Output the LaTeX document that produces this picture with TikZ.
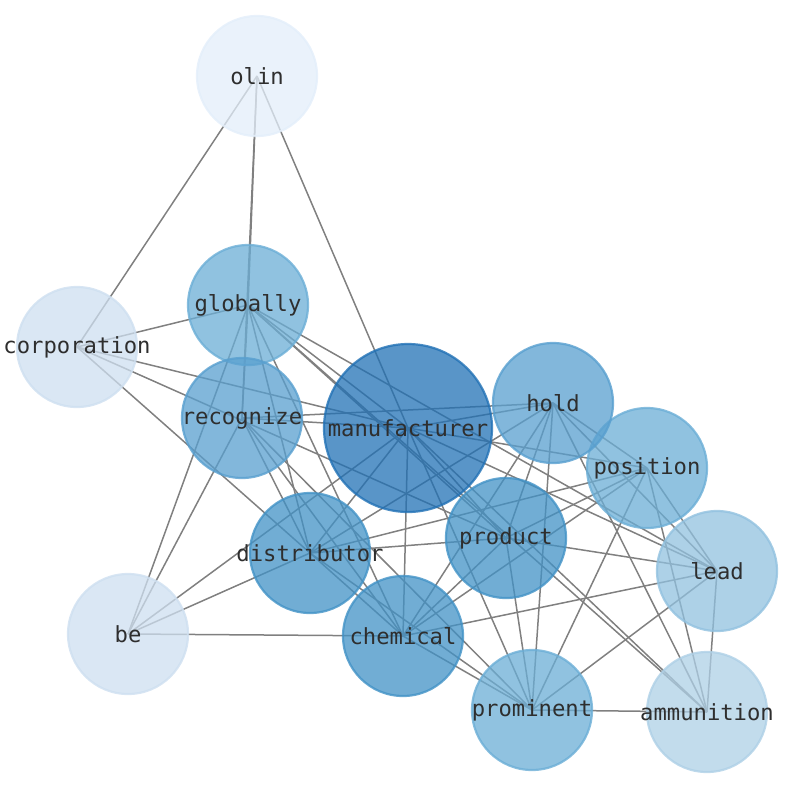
\documentclass[tikz,border=0pt]{standalone}
\usepackage{fontspec}
\setmonofont{DejaVu Sans Mono}
\definecolor{wA}{RGB}{227,238,250}
\definecolor{wB}{RGB}{206,223,240}
\definecolor{wC}{RGB}{174,208,230}
\definecolor{wD}{RGB}{145,193,223}
\definecolor{wE}{RGB}{107,174,214}
\definecolor{wF}{RGB}{88,159,207}
\definecolor{wG}{RGB}{66,146,198}
\definecolor{wH}{RGB}{33,113,181}
\newcommand{\Word}[4]{\node[VertexStyle, fill=#4, draw=#4, label={[LabelStyle]center:#1}] (#1) at (#2,#3) {};}
\pgfdeclarelayer{edges}
\pgfsetlayers{edges,main}

\begin{document}
\begin{tikzpicture}[x=1pt, y=-1pt]
        \tikzset{VertexStyle/.style = {circle, inner sep=0pt, minimum size=120pt, line width=2.2pt,
                fill opacity=0.75, draw opacity=0.8}}
        \tikzset{LabelStyle/.style = {inner sep=0pt, text=black!82, font=\ttfamily\fontsize{22.2}{22}\selectfont}}
        \tikzset{EdgeStyle/.style = {draw=black!50, line width=1.5pt}}
        \useasboundingbox (0,0) rectangle (794,790);
        % words
        \Word{olin}{257}{76}{wA}
        \Word{corporation}{77}{347}{wB}
        \Word{be}{128}{634}{wB}
        \Word{ammunition}{707}{712}{wC}
        \Word{lead}{717}{571}{wD}
        \Word{globally}{248}{305}{wE}
        \Word{position}{647}{468}{wE}
        \Word{prominent}{532}{710}{wE}
        \Word{recognize}{242}{418}{wF}
        \Word{hold}{553}{403}{wF}
        \Word{product}{506}{538}{wG}
        \Word{distributor}{310}{553}{wG}
        \Word{chemical}{403}{636}{wG}
        \node[VertexStyle, minimum size=168pt, fill=wH, draw=wH,
                label={[LabelStyle]center:manufacturer}] (manufacturer) at (408,428) {};
        % links
        \begin{pgfonlayer}{edges}
        \foreach \a/\b in {olin/corporation, olin/globally, olin/recognize, olin/manufacturer,
                corporation/globally, corporation/manufacturer, corporation/product, corporation/distributor,
                be/globally, be/recognize, be/manufacturer, be/distributor, be/chemical,
                globally/recognize, globally/distributor, globally/chemical, globally/manufacturer,
                globally/product, globally/ammunition, globally/lead,
                recognize/manufacturer, recognize/hold, recognize/distributor, recognize/chemical, recognize/prominent,
                manufacturer/hold, manufacturer/position, manufacturer/lead, manufacturer/product,
                manufacturer/ammunition, manufacturer/prominent, manufacturer/chemical, manufacturer/distributor,
                hold/position, hold/distributor, hold/chemical, hold/product, hold/prominent, hold/lead, hold/ammunition,
                position/distributor, position/product, position/chemical, position/prominent, position/lead, position/ammunition,
                product/distributor, product/chemical, product/prominent, product/lead,
                distributor/chemical, distributor/prominent,
                chemical/lead, chemical/prominent,
                lead/prominent, lead/ammunition, prominent/ammunition}
                \draw[EdgeStyle] (\a.center) -- (\b.center);
        \end{pgfonlayer}
\end{tikzpicture}
\end{document}
